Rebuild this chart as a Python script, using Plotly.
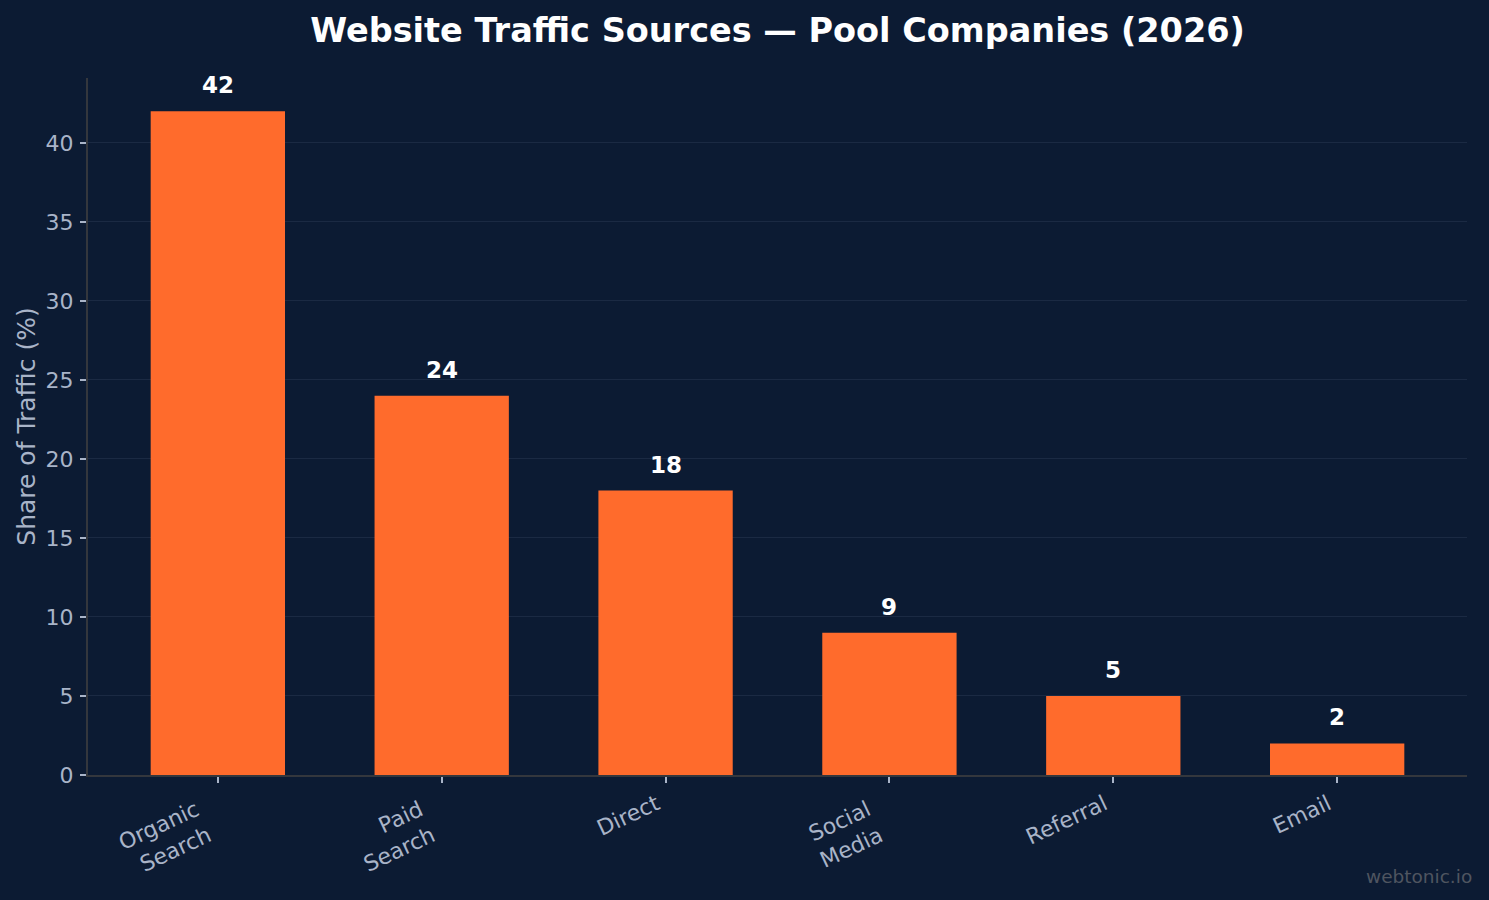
import plotly.graph_objects as go

categories = ["Organic\u00a0\u00a0<br>Search\u00a0\u00a0", "Paid\u00a0\u00a0<br>Search\u00a0\u00a0", "Direct",
              "Social\u00a0\u00a0<br>Media\u00a0\u00a0", "Referral", "Email"]
shares = [42, 24, 18, 9, 5, 2]
y_ticks = [0, 5, 10, 15, 20, 25, 30, 35, 40]

BG = "#0c1b33"
BAR = "#ff6b2c"
TXT = "#a9b4c8"
FONT = "DejaVu Sans"

fig = go.Figure()
fig.add_trace(go.Bar(
    x=list(range(len(categories))), y=shares, width=0.6,
    marker=dict(color=BAR, line=dict(width=0)),
    hoverinfo="skip",
))
for i, v in enumerate(shares):
    fig.add_annotation(x=i, y=v, text=f"<b>{v}</b>", showarrow=False,
                       yanchor="bottom", yshift=11,
                       font=dict(family=FONT, size=23, color="white"))

fig.add_annotation(xref="paper", yref="paper", x=1.005, y=-0.145, xanchor="right", yanchor="middle",
                   text="webtonic.io", showarrow=False,
                   font=dict(family=FONT, size=18.5, color="#4f5560"))

fig.update_layout(
    width=1489, height=900,
    paper_bgcolor=BG, plot_bgcolor=BG,
    margin=dict(l=88, r=22, t=78, b=125),
    showlegend=False,
    title=dict(text="<b>Website Traffic Sources — Pool Companies (2026)</b>",
               x=0.5, xref="paper", y=0.966, yanchor="middle",
               font=dict(family=FONT, size=33.5, color="white")),
    font=dict(family=FONT, color=TXT),
)
fig.update_xaxes(
    range=[-0.58, 5.58], tickmode="array", tickvals=list(range(len(categories))), ticktext=categories,
    tickangle=-25, tickfont=dict(family=FONT, size=22, color=TXT), ticklabelshift=-9,
    showline=True, linecolor="#34373d", linewidth=2,
    ticks="outside", ticklen=6, tickwidth=1.5, tickcolor=TXT,
    showgrid=False, zeroline=False,
)
fig.update_yaxes(
    range=[0, 44.1], tickmode="array", tickvals=y_ticks,
    tickfont=dict(family=FONT, size=22, color=TXT), ticklabelstandoff=2,
    title=dict(text="Share of Traffic (%)", font=dict(family=FONT, size=25, color=TXT), standoff=3),
    showline=True, linecolor="#34373d", linewidth=2,
    ticks="outside", ticklen=6, tickwidth=1.5, tickcolor=TXT,
    showgrid=True, gridcolor="#1b2a43", gridwidth=1, zeroline=False,
)

fig.write_html("out.html")
